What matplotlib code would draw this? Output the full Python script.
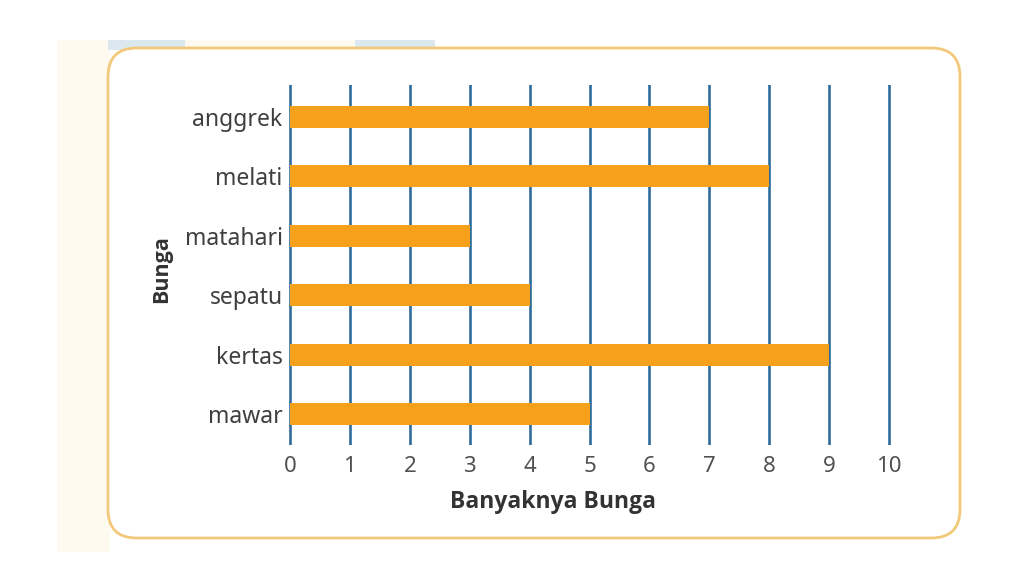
import matplotlib
matplotlib.use("Agg")
import matplotlib.pyplot as plt
from matplotlib.patches import FancyBboxPatch, Rectangle

categories = ["mawar", "kertas", "sepatu", "matahari", "melati", "anggrek"]
values = [5, 9, 4, 3, 8, 7]
xticks = [0, 1, 2, 3, 4, 5, 6, 7, 8, 9, 10]
xlabel = "Banyaknya Bunga"
ylabel = "Bunga"

plt.rcParams['font.family'] = ['Noto Sans', 'DejaVu Sans']

W, H = 1024, 576
fig = plt.figure(figsize=(W / 100, H / 100), dpi=100)
fig.patch.set_facecolor("white")

def fx(px):
    return px / W

def fy(py):
    return 1 - py / H

# faint background decorations
fig.patches.append(Rectangle((fx(57), fy(552)), fx(110) - fx(57), fy(40) - fy(552),
                             transform=fig.transFigure, facecolor="#FEFAF0", edgecolor="none", zorder=0))
fig.patches.append(Rectangle((fx(108), fy(50)), fx(185) - fx(108), fy(40) - fy(50),
                             transform=fig.transFigure, facecolor="#DCE8F0", edgecolor="none", zorder=0))
fig.patches.append(Rectangle((fx(355), fy(50)), fx(435) - fx(355), fy(40) - fy(50),
                             transform=fig.transFigure, facecolor="#DCE8F0", edgecolor="none", zorder=0))
fig.patches.append(Rectangle((fx(185), fy(50)), fx(355) - fx(185), fy(40) - fy(50),
                             transform=fig.transFigure, facecolor="#FEFAF0", edgecolor="none", zorder=0))

# rounded box
box = FancyBboxPatch((fx(108), fy(538)), fx(960) - fx(108), fy(48) - fy(538),
                     boxstyle="round,pad=0,rounding_size=0.028",
                     transform=fig.transFigure, facecolor="white",
                     edgecolor="#F2C97A", linewidth=2.0, zorder=1,
                     mutation_aspect=W / H)
fig.patches.append(box)

ax = fig.add_axes([fx(284), fy(445), fx(895) - fx(284), fy(85) - fy(445)])
ax.set_facecolor("none")
ax.set_zorder(2)

ypos = list(range(len(categories)))
ax.barh(ypos, values, height=0.37, color="#F5A11C", zorder=3)

ax.set_xlim(-0.1, 10.1)
ax.set_ylim(-0.52, 5.54)
ax.set_xticks(xticks)
ax.set_xticklabels([str(t) for t in xticks])
ax.set_yticks(ypos)
ax.set_yticklabels(categories)
ax.tick_params(axis="both", length=0)
ax.tick_params(axis="x", pad=8, labelsize=16, labelcolor="#505050")
ax.tick_params(axis="y", pad=1, labelsize=16.5, labelcolor="#3f3f3f")

ax.grid(axis="x", color="#2F6E9C", linewidth=1.9, zorder=1)
ax.grid(axis="y", visible=False)
ax.set_axisbelow(True)
for s in ax.spines.values():
    s.set_visible(False)

ax.set_xlabel(xlabel, fontsize=16.5, fontweight="bold", color="#333333",
              family=["Open Sans", "DejaVu Sans"])
ax.xaxis.set_label_coords((553 - 284) / 611, -(490 - 445) / 360)
ax.set_ylabel(ylabel, fontsize=15.5, fontweight="bold", color="#333333",
              family=["Open Sans", "DejaVu Sans"])
ax.yaxis.set_label_coords((172 - 284) / 611, 0.49)

fig.savefig("out.png", dpi=100)
